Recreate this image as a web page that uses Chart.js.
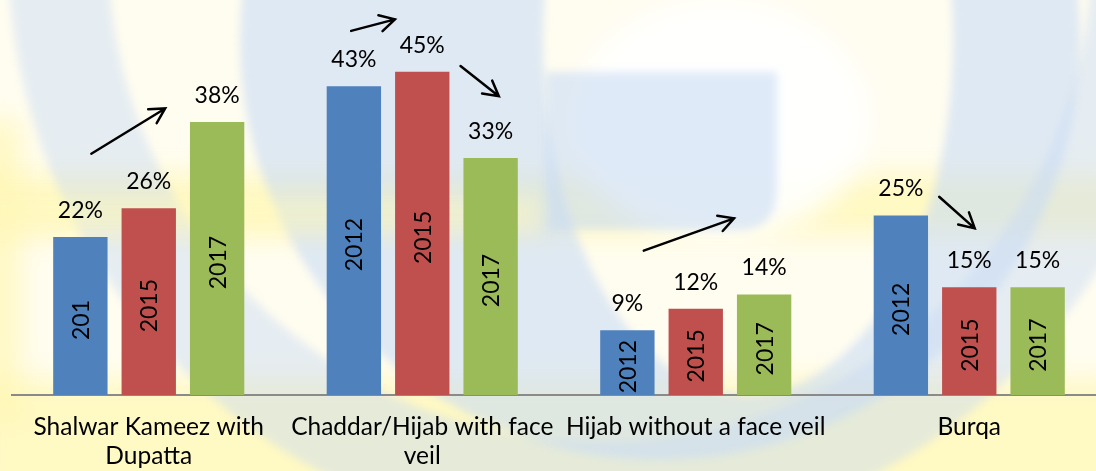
<!DOCTYPE html>
<html>
<head>
<meta charset="utf-8">
<script src="https://cdn.jsdelivr.net/npm/chart.js@4/dist/chart.umd.min.js"></script>
<style>
  html, body { margin: 0; padding: 0; overflow: hidden; background: #fff; }
  #wrap { position: relative; width: 1106px; height: 490px; }
</style>
</head>
<body>
<div id="wrap"><canvas id="chart"></canvas></div>
<script>
const categories = [
  ["Shalwar Kameez with", "Dupatta"],
  ["Chaddar/Hijab with face", "veil"],
  "Hijab without a face veil",
  "Burqa",
]
const years = ["2012", "2015", "2017"]
const values2012 = [22, 43, 9, 25]
const values2015 = [26, 45, 12, 15]
const values2017 = [38, 33, 14, 15]
// year text written inside each bar (the first one is cut short in the original)
const inner2012 = ["201", "2012", "2012", "2012"]
const inner2015 = ["2015", "2015", "2015", "2015"]
const inner2017 = ["2017", "2017", "2017", "2017"]
// trend arrows: [fromCategory, fromValue, toCategory, toValue]
const arrows = [
  [-0.21, 33.6, 0.06, 39.9],
  [0.74, 50.7, 0.90, 52.3],
  [1.14, 45.8, 1.28, 41.6],
  [1.81, 20.1, 2.14, 24.6],
  [2.89, 27.6, 3.02, 23.2],
]

const BLUE = "#4F81BD"
const RED = "#C0504D"
const GREEN = "#9BBB59"
const FONT = "Lato, 'Liberation Sans', sans-serif"

// faint logo watermark behind the plot
const watermark = {
  id: "watermark",
  beforeDraw(chart) {
    const { ctx, width, height } = chart
    ctx.save()
    ctx.fillStyle = "#fffdf0"
    ctx.fillRect(0, 0, width, height)

    ctx.filter = "blur(14px)"
    ctx.fillStyle = "rgba(255,246,175,0.7)"
    ctx.fillRect(-20, 175, width + 40, 60)
    ctx.fillRect(-20, 380, width + 40, 120)
    ctx.fillRect(-20, 120, 40, 300)
    ctx.fillStyle = "rgba(255,255,255,0.9)"
    ctx.beginPath()
    ctx.ellipse(720, 120, 150, 120, 0, 0, Math.PI * 2)
    ctx.fill()

    ctx.filter = "blur(4px)"
    ctx.fillStyle = "rgba(200,218,244,0.45)"
    ctx.beginPath()
    ctx.arc(600, -50, 592, 0, Math.PI * 2)
    ctx.arc(600, -50, 492, 0, Math.PI * 2, true)
    ctx.fill("evenodd")

    ctx.fillStyle = "rgba(200,218,244,0.58)"
    ctx.beginPath()
    ctx.arc(660, 40, 420, 0, Math.PI * 2)
    ctx.ellipse(748, 40, 205, 355, 0, 0, Math.PI * 2, true)
    ctx.fill("evenodd")

    ctx.beginPath()
    ctx.moveTo(546, 72)
    ctx.lineTo(777, 72)
    ctx.lineTo(777, 190)
    ctx.quadraticCurveTo(777, 230, 737, 230)
    ctx.lineTo(546, 230)
    ctx.closePath()
    ctx.fill()

    ctx.filter = "blur(10px)"
    ctx.fillStyle = "rgba(255,248,190,0.45)"
    ctx.fillRect(-20, 195, 560, 40)
    ctx.restore()
  },
}

const annotations = {
  id: "annotations",
  afterDatasetsDraw(chart) {
    const { ctx } = chart
    const inner = [inner2012, inner2015, inner2017]
    ctx.save()
    ctx.fillStyle = "#000"
    ctx.font = `23px ${FONT}`
    ctx.textAlign = "center"
    chart.data.datasets.forEach((ds, i) => {
      chart.getDatasetMeta(i).data.forEach((bar, j) => {
        ctx.textBaseline = "alphabetic"
        ctx.fillText(`${ds.data[j]}%`, bar.x, bar.y - 19)
        ctx.save()
        ctx.translate(bar.x, (bar.y + bar.base) / 2 + 4)
        ctx.rotate(-Math.PI / 2)
        ctx.textBaseline = "middle"
        ctx.fillText(inner[i][j], 0, 1)
        ctx.restore()
      })
    })

    const x = chart.scales.x
    const y = chart.scales.y
    ctx.strokeStyle = "#000"
    ctx.lineWidth = 2.5
    ctx.lineCap = "round"
    for (const [c0, v0, c1, v1] of arrows) {
      const x0 = x.getPixelForValue(c0)
      const y0 = y.getPixelForValue(v0)
      const x1 = x.getPixelForValue(c1)
      const y1 = y.getPixelForValue(v1)
      const a = Math.atan2(y1 - y0, x1 - x0)
      ctx.beginPath()
      ctx.moveTo(x0, y0)
      ctx.lineTo(x1, y1)
      ctx.moveTo(x1 - 17 * Math.cos(a - 0.5), y1 - 17 * Math.sin(a - 0.5))
      ctx.lineTo(x1, y1)
      ctx.lineTo(x1 - 17 * Math.cos(a + 0.5), y1 - 17 * Math.sin(a + 0.5))
      ctx.stroke()
    }
    ctx.restore()
  },
}

const makeSet = (label, data, color) => ({
  label,
  data,
  backgroundColor: color,
  barPercentage: 0.795,
  categoryPercentage: 0.75,
})

new Chart(document.getElementById("chart"), {
  type: "bar",
  data: {
    labels: categories,
    datasets: [
      makeSet(years[0], values2012, BLUE),
      makeSet(years[1], values2015, RED),
      makeSet(years[2], values2017, GREEN),
    ],
  },
  options: {
    animation: false,
    responsive: true,
    maintainAspectRatio: false,
    layout: { padding: { left: 12, right: 0, top: 0, bottom: 1 } },
    plugins: {
      legend: { display: false },
      tooltip: { enabled: false },
    },
    scales: {
      x: {
        grid: { display: false, drawTicks: false },
        border: { color: "#8a8a8a", width: 2 },
        ticks: {
          color: "#000",
          padding: 18,
          maxRotation: 0,
          autoSkip: false,
          font: { family: FONT, size: 24.5, lineHeight: "29px" },
        },
      },
      y: {
        display: false,
        min: 0,
        max: 55,
      },
    },
  },
  plugins: [watermark, annotations],
})
</script>
</body>
</html>
